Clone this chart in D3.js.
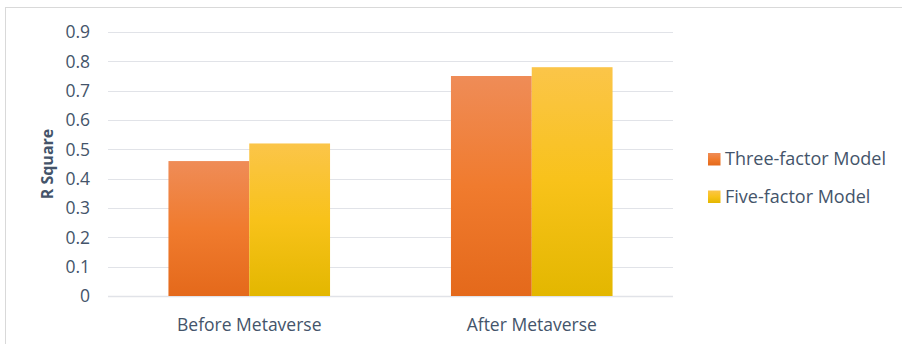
<!DOCTYPE html>
<html>
<head>
<meta charset="utf-8">
<script src="https://cdn.jsdelivr.net/npm/d3@7"></script>
<style>
  html, body { margin: 0; padding: 0; background: #fff; }
  svg { display: block; font-family: "Open Sans", sans-serif; }
</style>
</head>
<body>
<svg id="chart" width="902" height="344"></svg>
<script>
const categories = ['Before Metaverse', 'After Metaverse'];
const seriesNames = ['Three-factor Model', 'Five-factor Model'];
const threeFactor = [0.46, 0.75];
const fiveFactor = [0.52, 0.78];
const yTicks = [0, 0.1, 0.2, 0.3, 0.4, 0.5, 0.6, 0.7, 0.8, 0.9];

const seriesValues = [threeFactor, fiveFactor];
const gradStops = [
  ['#ef8c57', '#f07b2e', '#e4691b'],
  ['#fbc549', '#f8c21a', '#e3b700']
];
const textColor = '#44546a';

const svg = d3.select('#chart');
const margin = { left: 108, right: 229, top: 32, bottom: 48 };
const W = 902, H = 344;

// chart frame (only top and left edges are visible)
svg.append('rect')
  .attr('x', 5.5).attr('y', 7.5)
  .attr('width', 1000).attr('height', 1000)
  .attr('fill', 'none')
  .attr('stroke', '#d9d9d9')
  .attr('stroke-width', 1);

const defs = svg.append('defs');
gradStops.forEach((s, i) => {
  const g = defs.append('linearGradient')
    .attr('id', 'grad' + i)
    .attr('x1', 0).attr('y1', 0).attr('x2', 0).attr('y2', 1);
  g.append('stop').attr('offset', '0%').attr('stop-color', s[0]);
  g.append('stop').attr('offset', '50%').attr('stop-color', s[1]);
  g.append('stop').attr('offset', '100%').attr('stop-color', s[2]);
});

const x0 = d3.scaleBand()
  .domain(categories)
  .range([margin.left, W - margin.right])
  .paddingInner(0.428)
  .paddingOuter(0.214);

const x1 = d3.scaleBand()
  .domain(seriesNames)
  .range([0, x0.bandwidth()]);

const y = d3.scaleLinear()
  .domain([0, 0.9])
  .range([H - margin.bottom, margin.top]);

// gridlines
svg.append('g')
  .selectAll('line')
  .data(yTicks)
  .join('line')
  .attr('x1', margin.left)
  .attr('x2', W - margin.right)
  .attr('y1', d => Math.round(y(d)) + 0.5)
  .attr('y2', d => Math.round(y(d)) + 0.5)
  .attr('stroke', '#e1e3e8')
  .attr('stroke-width', d => d === 0 ? 1.5 : 1);

// y tick labels
svg.append('g')
  .selectAll('text')
  .data(yTicks)
  .join('text')
  .attr('x', 90)
  .attr('y', d => y(d))
  .attr('dy', '0.36em')
  .attr('text-anchor', 'end')
  .attr('font-size', 17.5)
  .attr('fill', textColor)
  .text(d => d === 0 ? '0' : d3.format('.1f')(d));

// y axis title
svg.append('text')
  .attr('transform', `translate(53,${y(0.45)}) rotate(-90)`)
  .attr('text-anchor', 'middle')
  .attr('font-size', 16)
  .attr('font-weight', 'bold')
  .attr('fill', textColor)
  .text('R Square');

// bars
const groups = svg.append('g')
  .selectAll('g')
  .data(categories)
  .join('g')
  .attr('transform', d => `translate(${x0(d)},0)`);

groups.selectAll('rect')
  .data((c, ci) => seriesNames.map((s, si) => ({ s, si, v: seriesValues[si][ci] })))
  .join('rect')
  .attr('x', d => x1(d.s))
  .attr('width', x1.bandwidth())
  .attr('y', d => y(d.v))
  .attr('height', d => y(0) - y(d.v))
  .attr('fill', d => `url(#grad${d.si})`);

// category labels
svg.append('g')
  .selectAll('text')
  .data(categories)
  .join('text')
  .attr('x', d => x0(d) + x0.bandwidth() / 2)
  .attr('y', 331)
  .attr('text-anchor', 'middle')
  .attr('font-size', 17.5)
  .attr('fill', textColor)
  .text(d => d);

// legend
const legend = svg.append('g')
  .selectAll('g')
  .data(seriesNames)
  .join('g')
  .attr('transform', (d, i) => `translate(708,${153 + i * 37.5})`);

legend.append('rect')
  .attr('width', 12.5).attr('height', 12.5)
  .attr('fill', (d, i) => `url(#grad${i})`);

legend.append('text')
  .attr('x', 17)
  .attr('y', 6)
  .attr('dy', '0.36em')
  .attr('font-size', 18)
  .attr('fill', textColor)
  .text(d => d);
</script>
</body>
</html>
